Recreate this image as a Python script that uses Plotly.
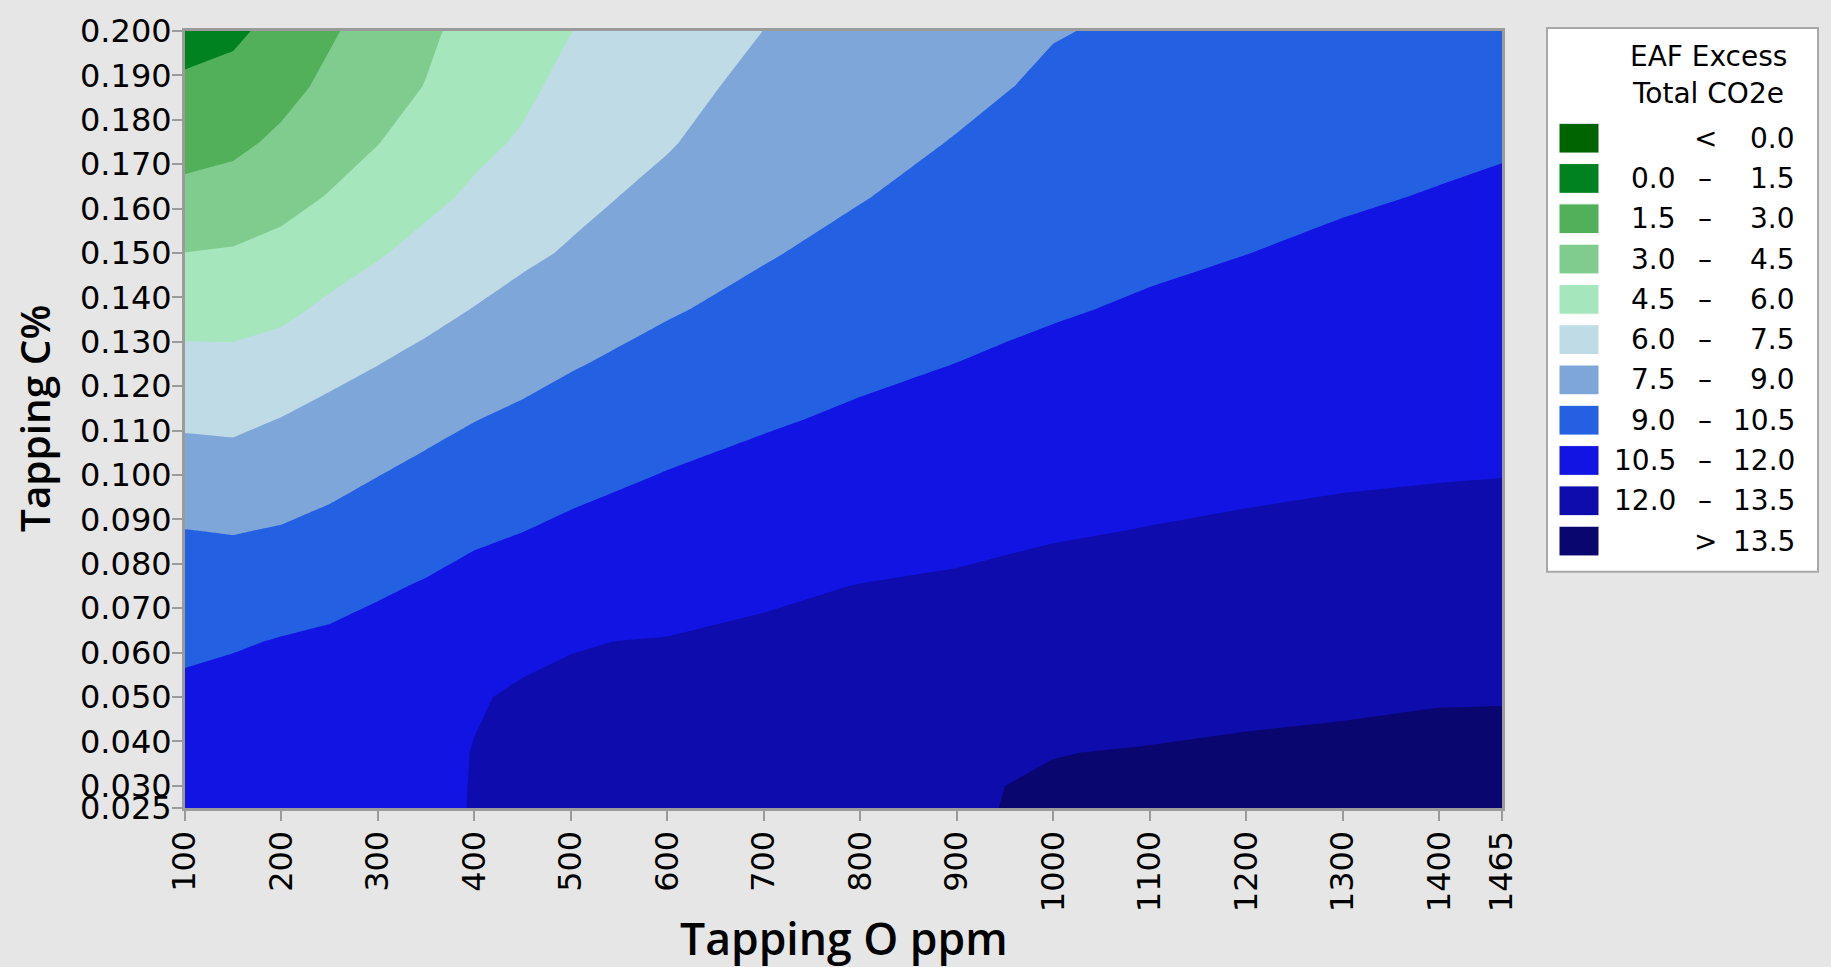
import plotly.graph_objects as go

# ---------------- data ----------------
o_ppm = [100, 150, 200, 250, 300, 350, 400, 450, 500, 600, 700, 800, 900, 950,
         1000, 1100, 1200, 1300, 1400, 1465]
c_pct = [0.025, 0.0375, 0.05, 0.0625, 0.075, 0.0875, 0.1, 0.1125, 0.125,
         0.1375, 0.15, 0.1625, 0.175, 0.1875, 0.2]

# EAF Excess Total CO2e, one list per Tapping O ppm column (values bottom -> top in c_pct order)
co2e_columns = [
    [11.75, 11.30, 10.82, 10.21, 9.61, 9.02, 8.15, 7.29, 6.38, 5.45, 4.51, 3.37, 2.49, 1.73, 0.98],   # 100
    [11.75, 11.40, 10.95, 10.38, 9.66, 8.94, 8.08, 7.22, 6.34, 5.48, 4.62, 3.59, 2.69, 1.96, 1.24],   # 150
    [11.80, 11.50, 11.05, 10.57, 9.84, 9.08, 8.31, 7.54, 6.60, 5.70, 4.89, 4.08, 3.25, 2.57, 1.96],   # 200
    [11.85, 11.60, 11.20, 10.70, 10.07, 9.35, 8.62, 7.90, 7.10, 6.23, 5.40, 4.58, 3.93, 3.30, 2.84],  # 250
    [11.88, 11.70, 11.35, 10.90, 10.35, 9.66, 8.98, 8.23, 7.48, 6.68, 5.89, 5.16, 4.46, 4.02, 3.58],  # 300
    [11.90, 11.82, 11.55, 11.10, 10.59, 9.98, 9.32, 8.62, 7.86, 7.11, 6.38, 5.71, 5.13, 4.54, 4.30],  # 350
    [12.02, 12.02, 11.95, 11.50, 10.95, 10.25, 9.61, 8.97, 8.25, 7.53, 6.86, 6.20, 5.71, 5.30, 4.89], # 400
    [12.16, 12.10, 12.08, 11.85, 11.12, 10.48, 9.87, 9.24, 8.58, 7.91, 7.27, 6.70, 6.13, 5.75, 5.43], # 450
    [12.30, 12.19, 12.10, 11.97, 11.32, 10.72, 10.13, 9.52, 8.91, 8.26, 7.62, 7.17, 6.75, 6.34, 5.98],# 500
    [12.56, 12.39, 12.21, 12.04, 11.59, 11.07, 10.55, 10.00, 9.44, 8.88, 8.37, 7.85, 7.40, 7.07, 6.75],  # 600
    [12.83, 12.61, 12.38, 12.16, 11.85, 11.36, 10.87, 10.37, 9.87, 9.36, 8.90, 8.55, 8.21, 7.86, 7.51],  # 700
    [13.10, 12.83, 12.55, 12.28, 12.02, 11.58, 11.13, 10.68, 10.24, 9.81, 9.37, 8.95, 8.63, 8.30, 7.98], # 800
    [13.37, 13.06, 12.75, 12.43, 12.12, 11.75, 11.34, 10.93, 10.51, 10.15, 9.78, 9.41, 9.05, 8.74, 8.44],# 900
    [13.52, 13.47, 12.91, 12.56, 12.21, 11.83, 11.44, 11.04, 10.64, 10.28, 9.94, 9.60, 9.27, 8.96, 8.70],# 950
    [13.65, 13.48, 13.07, 12.68, 12.30, 11.91, 11.53, 11.14, 10.76, 10.40, 10.09, 9.79, 9.48, 9.17, 8.95],   # 1000
    [13.93, 13.55, 13.17, 12.79, 12.41, 12.03, 11.68, 11.32, 10.97, 10.62, 10.31, 10.02, 9.73, 9.45, 9.16],  # 1100
    [14.02, 13.64, 13.27, 12.89, 12.52, 12.14, 11.79, 11.47, 11.14, 10.82, 10.49, 10.21, 9.92, 9.64, 9.35],  # 1200
    [14.09, 13.71, 13.34, 12.97, 12.60, 12.23, 11.89, 11.59, 11.29, 10.99, 10.69, 10.39, 10.11, 9.83, 9.55], # 1300
    [14.18, 13.80, 13.43, 13.05, 12.68, 12.30, 11.95, 11.67, 11.39, 11.12, 10.84, 10.56, 10.29, 10.01, 9.74],# 1400
    [14.18, 13.81, 13.44, 13.07, 12.70, 12.34, 11.98, 11.72, 11.45, 11.19, 10.93, 10.66, 10.40, 10.13, 9.87],# 1465
]

level_start = 0.0
level_end = 13.5
level_step = 1.5

band_low = ["", "0.0", "1.5", "3.0", "4.5", "6.0", "7.5", "9.0", "10.5", "12.0", ""]
band_sep = ["<", "–", "–", "–", "–", "–", "–", "–", "–", "–", ">"]
band_high = ["0.0", "1.5", "3.0", "4.5", "6.0", "7.5", "9.0", "10.5", "12.0", "13.5", "13.5"]
band_colors = ["#006400", "#008220", "#52AF5A", "#80CC8F", "#A6E6BC", "#BEDBE6",
               "#7EA6D8", "#2360E2", "#1214E3", "#0E0CAD", "#0A0670"]

x_ticks = [100, 200, 300, 400, 500, 600, 700, 800, 900, 1000, 1100, 1200, 1300, 1400, 1465]
y_ticks = [0.025, 0.030, 0.040, 0.050, 0.060, 0.070, 0.080, 0.090, 0.100, 0.110,
           0.120, 0.130, 0.140, 0.150, 0.160, 0.170, 0.180, 0.190, 0.200]

x_title = "Tapping O ppm"
y_title = "Tapping C%"
legend_title = ["EAF Excess", "Total CO2e"]

# ---------------- layout geometry (pixels) ----------------
W, H = 1831, 967
PL, PR, PT, PB = 185, 1502, 25, 808
BG = "#e6e6e6"
AXIS_GRAY = "#9b9b9b"
TICK_FONT = dict(family="DejaVu Sans", size=32, color="black")
LEG_FONT = dict(family="DejaVu Sans", size=28, color="black")
XTITLE_FONT = dict(family="Open Sans", size=44.5, color="black", weight=600)
YTITLE_FONT = dict(family="Open Sans", size=40.5, color="black", weight=600)


def fx(X):
    return (X - PL) / (PR - PL)


def fy(Y):
    return (PB - Y) / (PB - PT)


z_grid = [list(row) for row in zip(*co2e_columns)]
n_bands = len(band_colors)
colorscale = [[i / (n_bands - 1), c] for i, c in enumerate(band_colors)]

fig = go.Figure()
fig.add_trace(go.Contour(
    x=o_ppm, y=c_pct, z=z_grid,
    contours=dict(start=level_start, end=level_end, size=level_step,
                  coloring="fill", showlines=False),
    colorscale=colorscale, showscale=False,
    line=dict(width=0, smoothing=0),
    hoverinfo="skip",
))

shapes = []
annotations = []

# axis titles
annotations.append(dict(text=x_title, xref="paper", yref="paper",
                        x=fx((PL + PR) / 2), y=fy(938), xanchor="center", yanchor="middle",
                        showarrow=False, font=XTITLE_FONT))
annotations.append(dict(text=y_title, xref="paper", yref="paper",
                        x=fx(34), y=fy(416), xanchor="center", yanchor="middle",
                        textangle=-90, showarrow=False, font=YTITLE_FONT))

# legend box
shapes.append(dict(type="rect", xref="paper", yref="paper",
                   x0=fx(1547), x1=fx(1818), y0=fy(570), y1=fy(22),
                   line=dict(color="#a8a8a8", width=2), fillcolor="white", layer="above"))
for k, t in enumerate(legend_title):
    annotations.append(dict(text=t, xref="paper", yref="paper",
                            x=fx(1708), y=fy(51 + 37 * k), xanchor="center", yanchor="middle",
                            showarrow=False, font=LEG_FONT))
row_y0, row_dy = 133.0, 40.6
for i in range(n_bands):
    yc = row_y0 + i * row_dy
    shapes.append(dict(type="rect", xref="paper", yref="paper",
                       x0=fx(1559), x1=fx(1599), y0=fy(yc + 15), y1=fy(yc - 15),
                       line=dict(color="white", width=1), fillcolor=band_colors[i], layer="above"))
    if band_low[i]:
        annotations.append(dict(text=band_low[i], xref="paper", yref="paper",
                                x=fx(1678), y=fy(yc), xanchor="right", yanchor="middle",
                                showarrow=False, font=LEG_FONT))
    annotations.append(dict(text=band_sep[i], xref="paper", yref="paper",
                            x=fx(1705), y=fy(yc), xanchor="center", yanchor="middle",
                            showarrow=False, font=LEG_FONT))
    annotations.append(dict(text=band_high[i], xref="paper", yref="paper",
                            x=fx(1797), y=fy(yc), xanchor="right", yanchor="middle",
                            showarrow=False, font=LEG_FONT))

fig.update_layout(
    width=W, height=H,
    margin=dict(l=PL, r=W - PR, t=PT, b=H - PB, pad=0),
    paper_bgcolor=BG, plot_bgcolor=BG,
    showlegend=False,
    shapes=shapes, annotations=annotations,
    xaxis=dict(range=[o_ppm[0], o_ppm[-1]], tickmode="array", tickvals=x_ticks,
               ticktext=[str(v) for v in x_ticks], tickangle=-90,
               ticks="outside", ticklen=10, tickwidth=2, tickcolor=AXIS_GRAY,
               ticklabelstandoff=-3,
               showline=True, linecolor=AXIS_GRAY, linewidth=3, mirror=True,
               showgrid=False, zeroline=False, tickfont=TICK_FONT),
    yaxis=dict(range=[c_pct[0], c_pct[-1]], tickmode="array", tickvals=y_ticks,
               ticktext=[f"{v:.3f}" for v in y_ticks],
               ticks="outside", ticklen=10, tickwidth=2, tickcolor=AXIS_GRAY,
               ticklabelstandoff=-6,
               showline=True, linecolor=AXIS_GRAY, linewidth=3, mirror=True,
               showgrid=False, zeroline=False, tickfont=TICK_FONT),
)

fig.write_html("out.html",
               config={"displayModeBar": False},
               post_script="document.body.style.margin='0';"
                           "document.documentElement.style.overflow='hidden';"
                           "document.body.style.background='" + BG + "';")
